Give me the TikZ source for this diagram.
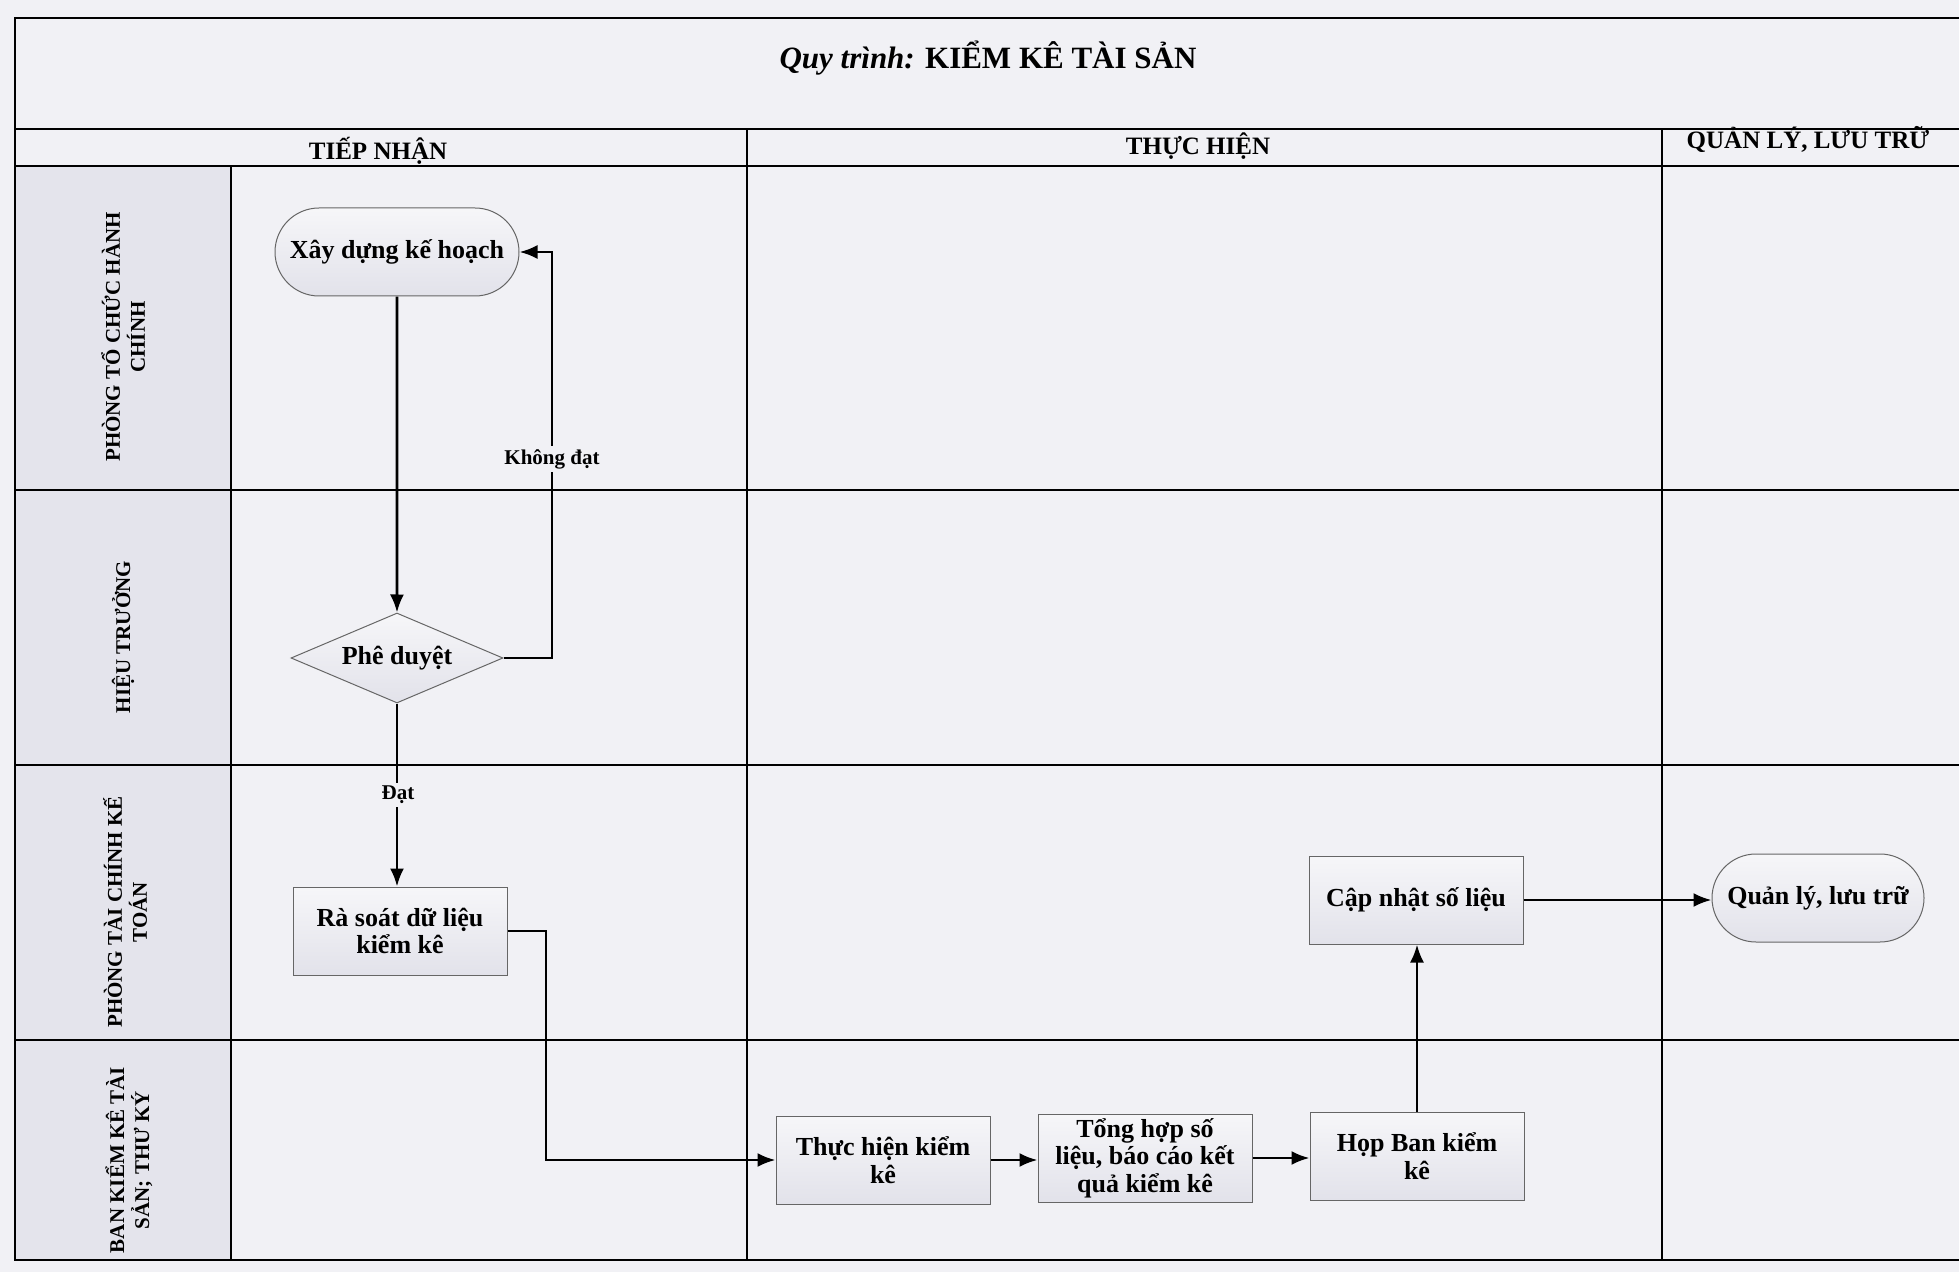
\documentclass[tikz,border=0pt]{standalone}
\usepackage{fontspec}
\setmainfont{Liberation Serif}
\usepackage{tikz}
\usetikzlibrary{arrows.meta,shapes,positioning,shadows,fit,calc}

\definecolor{paper}{HTML}{F1F1F5}
\definecolor{lanegray}{HTML}{E4E4EC}
\definecolor{boxgray}{HTML}{E2E2EA}

\tikzset{
	frameline/.style={line width=1.3pt},
	gridline/.style={line width=0.8pt},
	stepbox/.style={draw=gray!80!black, line width=0.5pt, top color=white!70!boxgray, bottom color=boxgray,
		minimum width=107pt, minimum height=44pt, inner sep=2pt, align=center, font=\fontsize{13}{13.8}\selectfont\bfseries},
	terminal/.style={stepbox, rounded rectangle, minimum width=126pt},
	decision/.style={stepbox, diamond, aspect=2.35, inner sep=0pt, minimum width=106pt, minimum height=45pt},
	flow/.style={line width=1.3pt, -{Latex[length=9pt,width=7pt]}},
	flowlabel/.style={fill=paper, inner sep=1.5pt, font=\fontsize{10.5}{12}\selectfont\bfseries},
	lanelabel/.style={rotate=90, align=center, font=\fontsize{10.5}{12.5}\selectfont\bfseries},
	colhead/.style={font=\fontsize{12.5}{14}\selectfont\bfseries}
}

\begin{document}
\begin{tikzpicture}[x=0.5pt, y=-0.5pt]
	\useasboundingbox (0,0) rectangle (1959,1272);
	\fill[paper] (0,0) rectangle (1959,1272);
	
	% lane label column
	\fill[lanegray] (15,166) rectangle (231,1260);
	
	% frame and grid
	\draw[frameline] (1975,18) -- (15,18) -- (15,1260) -- (1975,1260);
	\draw[frameline] (15,129) -- (1975,129);
	\draw[frameline] (15,166) -- (1975,166);
	\foreach \y in {490,765,1040}
		\draw[frameline] (15,\y) -- (1975,\y);
	\draw[gridline] (231,166) -- (231,1260);
	\draw[gridline] (747,129) -- (747,1260);
	\draw[gridline] (1662,129) -- (1662,1260);
	
	% title and column heads
	\node (title) at (988,58) {\fontsize{15.5}{18}\selectfont\bfseries\itshape Quy trình: \upshape KIỂM KÊ TÀI SẢN};
	\node[colhead] (headA) at (378,151) {TIẾP NHẬN};
	\node[colhead] (headB) at (1198,146) {THỰC HIỆN};
	\node[colhead] (headC) at (1808,139) {QUẢN LÝ, LƯU TRỮ};
	
	% lanes
	\node[lanelabel] (laneA) at (123,337) {PHÒNG TỔ CHỨC HÀNH\\CHÍNH};
	\node[lanelabel] (laneB) at (123,637) {HIỆU TRƯỞNG};
	\node[lanelabel] (laneC) at (125,912) {PHÒNG TÀI CHÍNH KẾ\\TOÁN};
	\node[lanelabel] (laneD) at (129,1160) {BAN KIỂM KÊ TÀI\\SẢN; THƯ KÝ};
	
	% steps
	\node[terminal] (plan) at (397,252) {Xây dựng kế hoạch};
	\node[decision] (approve) at (397,658) {Phê duyệt};
	\node[stepbox] (review) at (400,931) {Rà soát dữ liệu\\kiểm kê};
	\node[stepbox] (count) at (883,1160) {Thực hiện kiểm\\kê};
	\node[stepbox] (report) at (1145,1158) {Tổng hợp số\\liệu, báo cáo kết\\quả kiểm kê};
	\node[stepbox] (meeting) at (1417,1156) {Họp Ban kiểm\\kê};
	\node[stepbox] (update) at (1416,900) {Cập nhật số liệu};
	\node[terminal, minimum width=110pt] (archive) at (1818,898) {Quản lý, lưu trữ};
	
	% connectors
	\draw[flow] (plan) -- (approve);
	\draw[flow] (approve.east) -| (552,252) -- (plan.east);
	\node[flowlabel] (fail) at (552,459) {Không đạt};
	\draw[flow] (approve.south) -- (approve.south |- review.north);
	\node[flowlabel] (pass) at (398,795) {Đạt};
	\draw[flow] (review.east) -| (546,1160) -- (count.west);
	\draw[flow] (count.east) -- (count.east -| report.west);
	\draw[flow] (report.east) -- (report.east -| meeting.west);
	\draw[flow] (meeting.north) -- (meeting.north |- update.south);
	\draw[flow] (update.east) -- (update.east -| archive.west);
\end{tikzpicture}
\end{document}
